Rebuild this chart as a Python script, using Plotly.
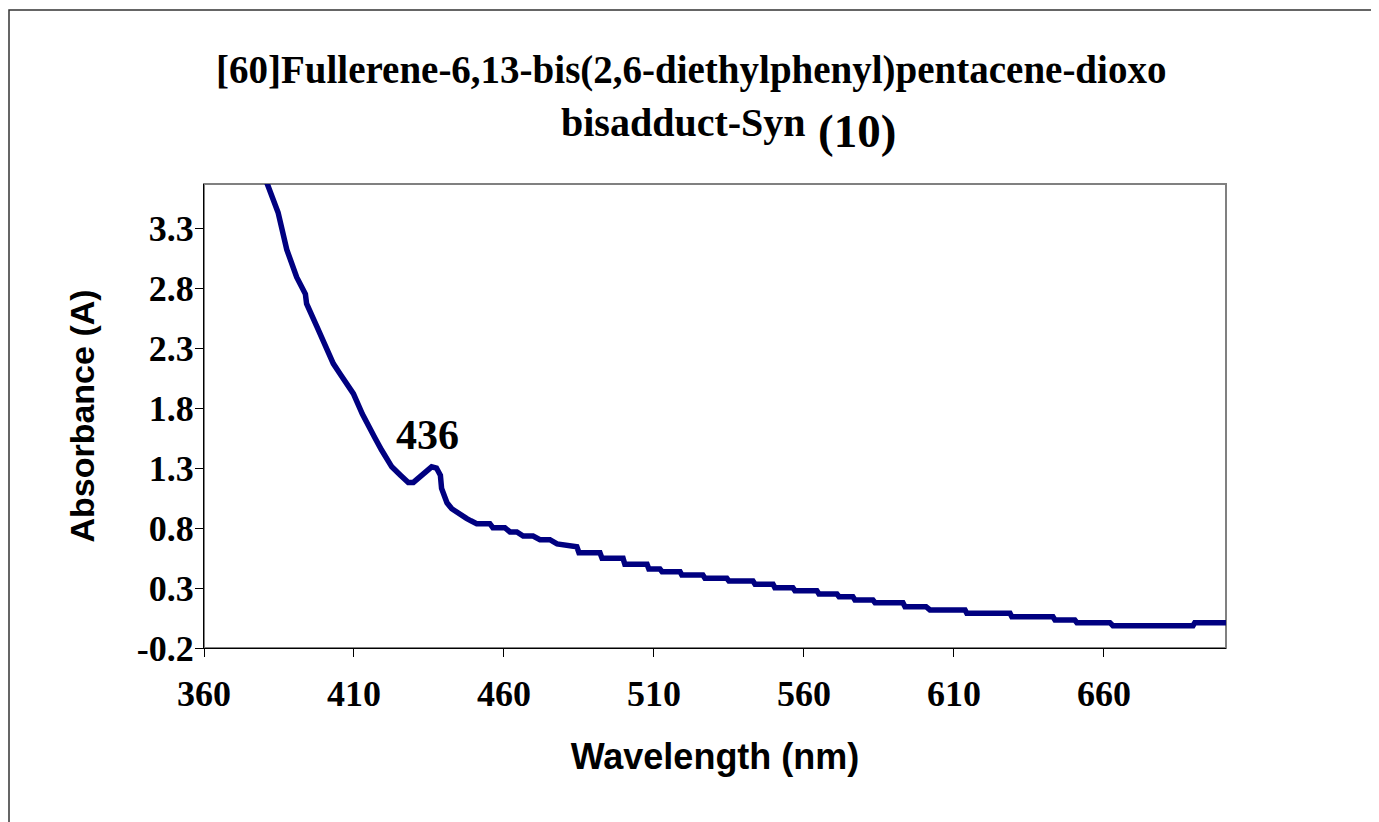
import plotly.graph_objects as go

# UV-vis spectrum
wavelength = [380.0, 381.3, 384.7, 387.6, 390.9, 393.8, 394.2, 397.6, 400.5, 403.1,
              405.5, 407.6, 409.8, 412.8, 415.8, 417.0, 419.2, 422.6, 425.5, 428.1,
              429.8, 432.9, 435.9, 437.5, 438.8, 439.2, 439.8, 441.0, 442.6, 445.3,
              447.5, 449.0, 450.9, 455.3, 456.3, 460.3, 462.0, 464.3, 466.4, 469.7,
              472.0, 475.3, 477.7, 484.3, 485.0, 492.0, 492.7, 499.7, 500.3, 507.7,
              508.3, 512.0, 512.7, 518.7, 519.3, 526.3, 527.0, 534.3, 535.0, 543.0,
              543.7, 549.7, 550.3, 556.3, 557.0, 564.3, 565.0, 571.0, 571.7, 576.3,
              577.0, 583.0, 583.7, 593.0, 593.7, 600.7, 602.0, 613.7, 614.3, 628.7,
              629.3, 643.0, 643.7, 650.3, 651.0, 662.0, 663.0, 689.7, 690.3, 700.7]
absorbance = [3.74, 3.66, 3.43, 3.12, 2.89, 2.75, 2.67, 2.48, 2.31, 2.17,
              2.08, 2.01, 1.92, 1.75, 1.59, 1.55, 1.45, 1.31, 1.24, 1.18,
              1.18, 1.25, 1.31, 1.30, 1.24, 1.13, 1.09, 1.01, 0.96, 0.91,
              0.88, 0.86, 0.836, 0.836, 0.803, 0.803, 0.767, 0.767, 0.733, 0.733,
              0.703, 0.703, 0.667, 0.644, 0.594, 0.594, 0.547, 0.547, 0.497, 0.497,
              0.458, 0.458, 0.436, 0.436, 0.408, 0.408, 0.381, 0.381, 0.358, 0.358,
              0.331, 0.331, 0.303, 0.303, 0.278, 0.278, 0.25, 0.25, 0.228, 0.228,
              0.2, 0.2, 0.178, 0.178, 0.144, 0.144, 0.117, 0.117, 0.089, 0.089,
              0.061, 0.061, 0.033, 0.033, 0.011, 0.011, -0.014, -0.014, 0.011, 0.011]

peak_nm = 436
peak_abs = 1.31

x_ticks = [360, 410, 460, 510, 560, 610, 660]
y_ticks = [-0.2, 0.3, 0.8, 1.3, 1.8, 2.3, 2.8, 3.3]
y_ticktext = ['-0.2', '0.3', '0.8', '1.3', '1.8', '2.3', '2.8', '3.3']

serif = 'Liberation Serif, Times New Roman, serif'
sans = 'Liberation Sans, Arial, sans-serif'

fig = go.Figure(go.Scatter(x=wavelength, y=absorbance, mode='lines',
                           line=dict(color='#000080', width=5.5), cliponaxis=True))

# page body adds 8px, so the figure is 8px smaller than the window
fig.update_layout(
    width=1371, height=814,
    margin=dict(l=196, r=153, t=176, b=174),
    paper_bgcolor='white', plot_bgcolor='white',
    showlegend=False,
)

fig.update_xaxes(range=[360, 700.7], tickvals=x_ticks, ticks='outside', ticklen=8,
                 tickcolor='black', showline=True, linecolor='black', linewidth=1,
                 showgrid=False, zeroline=False, ticklabelstandoff=6,
                 tickfont=dict(family=serif, size=36, color='black', weight='bold'),
                 title=dict(text='Wavelength (nm)', standoff=30,
                            font=dict(family=sans, size=36, color='black', weight='bold')))
fig.update_yaxes(range=[-0.2, 3.667], tickvals=y_ticks, ticktext=y_ticktext,
                 ticks='outside', ticklen=8, tickcolor='black', showline=True,
                 linecolor='black', linewidth=1, showgrid=False, zeroline=False,
                 ticklabelstandoff=-6,
                 tickfont=dict(family=serif, size=36, color='black', weight='bold'),
                 title=dict(text='Absorbance (A)', standoff=31,
                            font=dict(family=sans, size=34, color='black', weight='bold')))

# plot area frame (grey) and outer chart frame
fig.add_shape(type='rect', xref='paper', yref='paper', x0=0, x1=1, y0=0, y1=1,
              line=dict(color='#808080', width=2), layer='below')
fig.add_shape(type='rect', xref='paper', yref='paper', x0=-0.1908, x1=1.2, y0=-0.45, y1=1.375,
              line=dict(color='#333333', width=1.5))

fig.add_annotation(text='[60]Fullerene-6,13-bis(2,6-diethylphenyl)pentacene-dioxo',
                   xref='paper', yref='paper', x=0.477, y=1.2457, showarrow=False,
                   xanchor='center', yanchor='middle',
                   font=dict(family=serif, size=39, color='black', weight='bold'))
fig.add_annotation(text='bisadduct-Syn', xref='paper', yref='paper', x=0.591, y=1.1336,
                   showarrow=False, xanchor='right', yanchor='middle',
                   font=dict(family=serif, size=40, color='black', weight='bold'))
fig.add_annotation(text='(10)', xref='paper', yref='paper', x=0.5988, y=1.114,
                   showarrow=False, xanchor='left', yanchor='middle',
                   font=dict(family=serif, size=47, color='black', weight='bold'))

fig.add_annotation(text=str(peak_nm), x=peak_nm, y=peak_abs, xref='x', yref='y',
                   showarrow=False, xshift=-4, yshift=32, yanchor='middle',
                   font=dict(family=serif, size=42, color='black', weight='bold'))

fig.write_html('out.html')
